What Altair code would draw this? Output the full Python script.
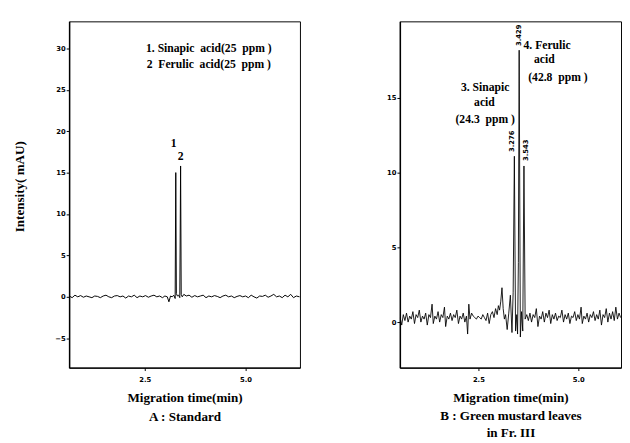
import altair as alt
import pandas as pd

NB = "\u00a0"

# ---- Panel A : Standard ----
time_a = [0.63, 0.70, 0.77, 0.84, 0.91, 0.98, 1.05, 1.12, 1.19, 1.26, 1.33, 1.40, 1.47, 1.54,
          1.61, 1.68, 1.75, 1.82, 1.89, 1.96, 2.03, 2.10, 2.17, 2.24, 2.31, 2.38, 2.45, 2.52,
          2.59, 2.66, 2.73, 2.80, 2.87, 2.94, 3.00, 3.06, 3.10, 3.14, 3.18, 3.22, 3.255, 3.27,
          3.285, 3.31, 3.34, 3.37, 3.39, 3.405, 3.43, 3.47, 3.53, 3.60, 3.67, 3.74, 3.81, 3.88,
          3.95, 4.02, 4.09, 4.16, 4.23, 4.30, 4.37, 4.44, 4.51, 4.58, 4.65, 4.72, 4.79, 4.86,
          4.93, 5.00, 5.07, 5.14, 5.21, 5.28, 5.35, 5.42, 5.49, 5.56, 5.63, 5.70, 5.77, 5.84,
          5.91, 5.98, 6.05, 6.12, 6.19, 6.26, 6.34]
signal_a = [0.1, -0.1, 0.2, 0.0, 0.15, -0.05, 0.1, 0.0, -0.1, 0.1, 0.05, -0.1, 0.1, 0.2,
            0.0, -0.1, 0.1, 0.15, 0.0, 0.1, -0.15, 0.1, 0.0, 0.2, -0.1, 0.1, 0.0, 0.15,
            -0.05, 0.1, 0.2, 0.0, 0.1, -0.1, 0.1, 0.0, -0.6, 0.1, 0.0, 0.2, -0.2, 15.0,
            0.4, 0.1, 0.2, -0.1, 15.8, 0.3, 0.0, 0.3, 0.1, 0.2, -0.05, 0.15, 0.0, 0.1,
            0.2, -0.1, 0.1, 0.0, 0.15, 0.05, -0.1, 0.1, 0.2, 0.0, 0.1, -0.1, 0.05, 0.15,
            0.0, 0.1, -0.1, 0.2, 0.0, -0.15, 0.1, 0.05, 0.2, -0.05, 0.1, 0.3, 0.0, 0.1,
            -0.1, 0.2, 0.0, 0.3, -0.1, 0.1, 0.0]

legend_a_text = ["1. Sinapic" + NB * 2 + "acid(25" + NB * 2 + "ppm )",
                 "2" + NB * 2 + "Ferulic" + NB * 2 + "acid(25" + NB * 2 + "ppm )"]
legend_a_x = [4.09, 4.09]
legend_a_y = [30.0, 28.1]

peak_a_text = ["1", "2"]
peak_a_x = [3.22, 3.39]
peak_a_y = [18.5, 17.0]

# ---- Panel B : Green mustard leaves in Fr. III ----
time_b = [0.54, 0.58, 0.62, 0.66, 0.70, 0.74, 0.78, 0.82, 0.86, 0.90, 0.94, 0.98, 1.02, 1.06,
          1.10, 1.14, 1.18, 1.22, 1.26, 1.30, 1.34, 1.37, 1.41, 1.45, 1.49, 1.53, 1.57, 1.61,
          1.65, 1.68, 1.72, 1.76, 1.80, 1.84, 1.88, 1.92, 1.96, 2.00, 2.04, 2.08, 2.12, 2.16,
          2.20, 2.23, 2.26, 2.29, 2.33, 2.37, 2.41, 2.45, 2.49, 2.53, 2.57, 2.61, 2.65, 2.69,
          2.73, 2.77, 2.81, 2.85, 2.89, 2.93,
          2.97, 3.00, 3.03, 3.06, 3.09, 3.12, 3.15, 3.18, 3.22, 3.26, 3.30, 3.34, 3.37, 3.40,
          3.43, 3.46, 3.48, 3.50, 3.52, 3.55, 3.58, 3.61, 3.64, 3.67, 3.71, 3.75, 3.79, 3.83,
          3.87, 3.91, 3.95, 3.99,
          4.03, 4.07, 4.11, 4.15, 4.19, 4.23, 4.27, 4.31, 4.35, 4.39, 4.43, 4.47, 4.51, 4.55,
          4.59, 4.63, 4.67, 4.71, 4.75, 4.79, 4.83, 4.87, 4.91, 4.95, 4.99, 5.03, 5.07, 5.10,
          5.14, 5.18, 5.22, 5.26, 5.30, 5.34, 5.38, 5.42, 5.46, 5.50, 5.54, 5.58, 5.62, 5.66,
          5.70, 5.74, 5.78, 5.82, 5.86, 5.90, 5.94, 5.98, 6.02, 6.06]
signal_b = [0.3, -0.2, 0.5, 0.1, 0.6, 0.0, 0.4, 0.2, 0.7, -0.1, 0.5, 0.3, 0.8, 0.0,
            0.4, 0.2, 0.6, -0.2, 0.5, 0.3, 1.2, -0.1, 0.4, 0.2, 0.7, 0.0, 0.5, 0.3,
            1.0, -0.3, 0.4, 0.2, 0.6, 0.1, 0.5, 0.3, 0.8, -0.1, 0.4, 0.2, 0.6, 0.0,
            0.4, -0.8, 1.2, 0.2, 0.6, 0.4, 0.3, 0.2, 0.4, 0.3, 0.2, 0.5, 0.3, 0.1,
            0.6, -0.1, 0.5, 0.7, 0.3, 0.9,
            0.5, 1.1, 0.8, 1.4, 2.3, 0.9, 0.2, 0.5, -0.5, 0.6, 1.8, -0.7, 2.0, 11.1,
            -0.6, 0.5, -0.8, 4.0, 18.2, -1.0, 0.7, -0.6, 10.45, 0.2, 0.5, 0.1, 0.6, 0.0,
            0.5, 0.3, 0.9, -0.3,
            0.4, 0.2, 0.7, 0.0, 0.6, 0.3, 0.8, -0.1, 0.5, 0.2, 0.6, 0.1, 0.4, 0.3,
            0.8, 0.0, 0.5, 0.2, 0.6, -0.1, 0.4, 0.3, 0.7, 0.1, 0.5, 0.2, 1.0, -0.1,
            0.4, 0.2, 0.6, 0.0, 0.5, 0.3, 0.7, 0.1, 0.5, 0.2, 0.8, -0.2, 0.5, 0.3,
            0.9, 0.0, 0.6, 0.2, 0.7, 0.1, 1.0, 0.2, 0.6, 0.3]

note_b_text = ["3. Sinapic", "acid", "(24.3" + NB * 2 + "ppm )",
               "4. Ferulic", "acid", "(42.8" + NB * 2 + "ppm )"]
note_b_x = [2.67, 2.65, 2.67, 4.22, 4.15, 4.49]
note_b_y = [15.7, 14.7, 13.6, 18.57, 17.6, 16.43]

rt_b_text = ["3.276", "3.429", "3.543"]
rt_b_x = [3.35, 3.52, 3.69]
rt_b_y = [12.1, 19.2, 11.5]

SERIF = "Liberation Serif"
SANS = "DejaVu Sans"

assert len(time_a) == len(signal_a) and len(time_b) == len(signal_b)

df_a = pd.DataFrame({"t": time_a, "s": signal_a})
df_b = pd.DataFrame({"t": time_b, "s": signal_b})
leg_a = pd.DataFrame({"t": legend_a_x, "s": legend_a_y, "label": legend_a_text})
pk_a = pd.DataFrame({"t": peak_a_x, "s": peak_a_y, "label": peak_a_text})
nt_b = pd.DataFrame({"t": note_b_x, "s": note_b_y, "label": note_b_text})
rt_b = pd.DataFrame({"t": rt_b_x, "s": rt_b_y, "label": rt_b_text})

xa = alt.Scale(domain=[0.625, 6.35], nice=False, zero=False)
ya = alt.Scale(domain=[-8.55, 33.26], nice=False, zero=False)
xb = alt.Scale(domain=[0.534, 6.07], nice=False, zero=False)
yb = alt.Scale(domain=[-3.05, 20.13], nice=False, zero=False)

axis_common = dict(labelFont=SANS, labelFontSize=7, labelFontWeight="bold", labelColor="black",
                   tickSize=3, tickColor="black", domainColor="black", domainWidth=1.5,
                   grid=False, titleFont=SERIF, titleFontSize=13.5, titleFontWeight="bold",
                   titleColor="black")

x_axis_a = alt.Axis(values=[2.5, 5.0], format=".1f", labelPadding=5,
                    title=["Migration time(min)", "A : Standard"], titleLineHeight=20,
                    titlePadding=9, **axis_common)
y_axis_a = alt.Axis(values=[-5, 0, 5, 10, 15, 20, 25, 30], format="d", labelPadding=1,
                    title="Intensity( mAU)", titlePadding=29, titleY=170, **axis_common)
x_axis_b = alt.Axis(values=[2.5, 5.0], format=".1f", labelPadding=5,
                    title=["Migration time(min)", "B : Green mustard leaves", "in Fr. III"],
                    titleLineHeight=18, titlePadding=9, **axis_common)
y_axis_b = alt.Axis(values=[0, 5, 10, 15], format="d", labelPadding=1, title=None,
                    **axis_common)

line_a = alt.Chart(df_a).mark_line(color="black", strokeWidth=1, clip=True).encode(
    x=alt.X("t:Q", scale=xa, axis=x_axis_a),
    y=alt.Y("s:Q", scale=ya, axis=y_axis_a),
    order="t:Q",
)
text_leg_a = alt.Chart(leg_a).mark_text(font=SERIF, fontSize=12, fontWeight="bold",
                                         color="black", align="center", baseline="middle").encode(
    x=alt.X("t:Q", scale=xa), y=alt.Y("s:Q", scale=ya), text="label:N")
text_pk_a = alt.Chart(pk_a).mark_text(font=SERIF, fontSize=12, fontWeight="bold",
                                       color="black", align="center", baseline="middle").encode(
    x=alt.X("t:Q", scale=xa), y=alt.Y("s:Q", scale=ya), text="label:N")

panel_a = alt.layer(line_a, text_leg_a, text_pk_a).properties(width=238, height=357)

line_b = alt.Chart(df_b).mark_line(color="black", strokeWidth=0.9, clip=True).encode(
    x=alt.X("t:Q", scale=xb, axis=x_axis_b),
    y=alt.Y("s:Q", scale=yb, axis=y_axis_b),
    order="t:Q",
)
text_nt_b = alt.Chart(nt_b).mark_text(font=SERIF, fontSize=12, fontWeight="bold",
                                       color="black", align="center", baseline="middle").encode(
    x=alt.X("t:Q", scale=xb), y=alt.Y("s:Q", scale=yb), text="label:N")
text_rt_b = alt.Chart(rt_b).mark_text(font=SANS, fontSize=7, fontWeight="bold", angle=270,
                                       color="black", align="center", baseline="middle").encode(
    x=alt.X("t:Q", scale=xb), y=alt.Y("s:Q", scale=yb), text="label:N")

panel_b = alt.layer(line_b, text_nt_b, text_rt_b).properties(width=228, height=357)

chart = alt.hconcat(panel_a, panel_b, spacing=87).properties(
    padding={"left": 4, "top": 6, "right": 0, "bottom": 0},
    background="white",
).configure_view(stroke="black", strokeWidth=1)

chart.save("out.html", embed_options={"renderer": "svg", "actions": False})
